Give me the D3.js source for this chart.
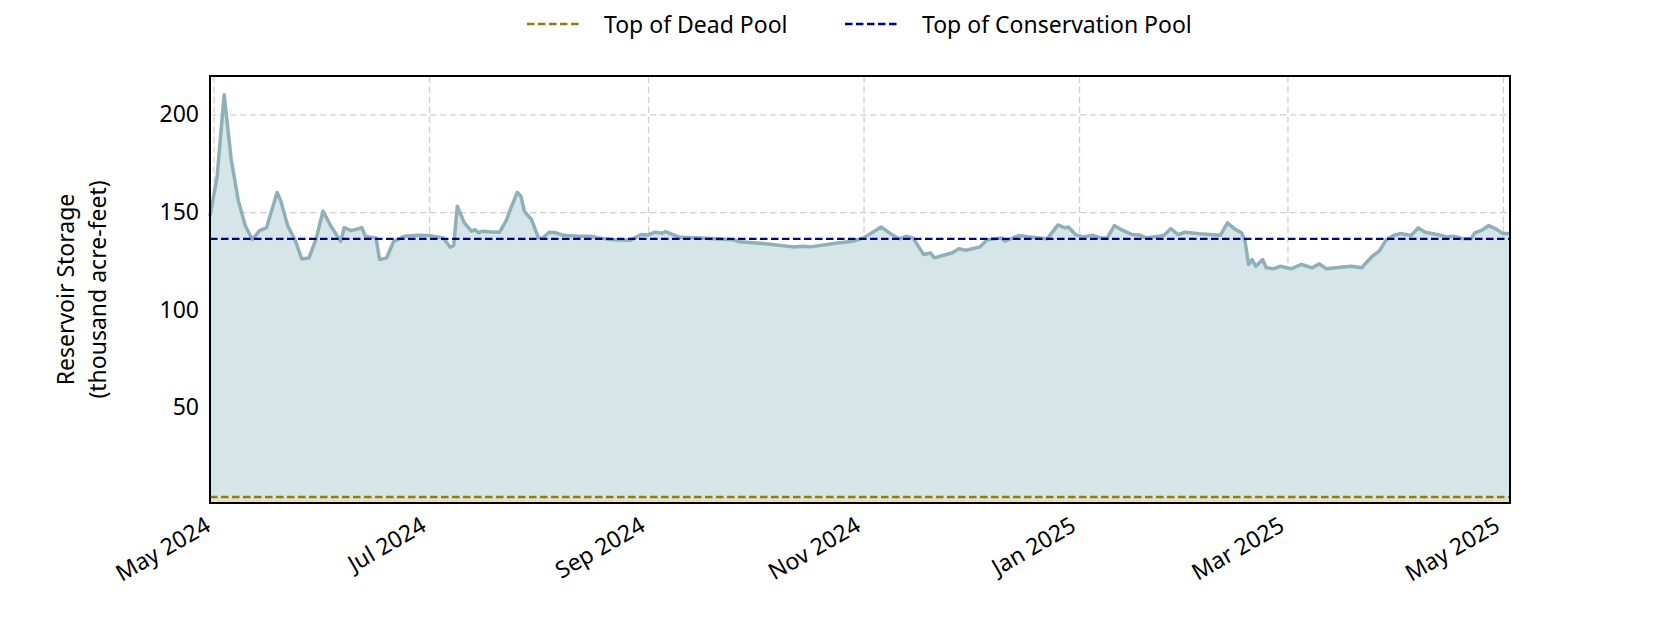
<!DOCTYPE html>
<html>
<head>
<meta charset="utf-8">
<script src="https://cdn.jsdelivr.net/npm/d3@7"></script>
<style>
  body { margin: 0; background: #fff; }
  text { font-family: "Noto Sans", sans-serif; fill: #000; }
</style>
</head>
<body>
<svg id="chart"></svg>
<script>

// daily reservoir storage (thousand acre-feet)
const dates = [
    "2024-04-30", "2024-05-02", "2024-05-04", "2024-05-06", "2024-05-08", "2024-05-10", "2024-05-12",
    "2024-05-14", "2024-05-16", "2024-05-19", "2024-05-20", "2024-05-22", "2024-05-24", "2024-05-26",
    "2024-05-28", "2024-05-30", "2024-06-01", "2024-06-03", "2024-06-06", "2024-06-07", "2024-06-09",
    "2024-06-12", "2024-06-13", "2024-06-16", "2024-06-17", "2024-06-19", "2024-06-21", "2024-06-24",
    "2024-06-28", "2024-07-01", "2024-07-05", "2024-07-07", "2024-07-08", "2024-07-09", "2024-07-11",
    "2024-07-13", "2024-07-14", "2024-07-15", "2024-07-16", "2024-07-18", "2024-07-21", "2024-07-23",
    "2024-07-24", "2024-07-26", "2024-07-27", "2024-07-28", "2024-07-30", "2024-08-01", "2024-08-02",
    "2024-08-04", "2024-08-06", "2024-08-08", "2024-08-12", "2024-08-16", "2024-08-18", "2024-08-22",
    "2024-08-27", "2024-08-30", "2024-09-01", "2024-09-03", "2024-09-05", "2024-09-06", "2024-09-08",
    "2024-09-10", "2024-09-16", "2024-09-25", "2024-09-27", "2024-10-05", "2024-10-12", "2024-10-15",
    "2024-10-17", "2024-10-24", "2024-10-29", "2024-11-01", "2024-11-06", "2024-11-09", "2024-11-11",
    "2024-11-13", "2024-11-15", "2024-11-18", "2024-11-20", "2024-11-21", "2024-11-26", "2024-11-28",
    "2024-11-30", "2024-12-04", "2024-12-06", "2024-12-10", "2024-12-11", "2024-12-15", "2024-12-18",
    "2024-12-23", "2024-12-25", "2024-12-26", "2024-12-28", "2024-12-29", "2024-12-31", "2025-01-02",
    "2025-01-05", "2025-01-07", "2025-01-09", "2025-01-11", "2025-01-13", "2025-01-16", "2025-01-18",
    "2025-01-20", "2025-01-25", "2025-01-27", "2025-01-29", "2025-01-31", "2025-02-04", "2025-02-10",
    "2025-02-12", "2025-02-14", "2025-02-16", "2025-02-17", "2025-02-18", "2025-02-19", "2025-02-20",
    "2025-02-22", "2025-02-23", "2025-02-25", "2025-02-27", "2025-03-02", "2025-03-05", "2025-03-08",
    "2025-03-10", "2025-03-12", "2025-03-19", "2025-03-22", "2025-03-25", "2025-03-27", "2025-03-29",
    "2025-03-31", "2025-04-02", "2025-04-05", "2025-04-07", "2025-04-09", "2025-04-12", "2025-04-15",
    "2025-04-17", "2025-04-20", "2025-04-22", "2025-04-23", "2025-04-25", "2025-04-27", "2025-04-29",
    "2025-05-01", "2025-05-03"
]
const storage = [
    148.0, 168.0, 210.0, 177.0, 156.0, 143.0, 136.0,
    140.5, 142.0, 160.0, 156.0, 143.0, 136.0, 126.0,
    126.5, 136.0, 150.5, 143.5, 135.0, 142.0, 140.5,
    142.0, 137.5, 136.8, 125.7, 126.6, 135.0, 137.6,
    138.1, 138.0, 136.8, 132.0, 133.0, 153.0, 144.5,
    140.2, 141.0, 139.4, 140.2, 139.9, 139.7, 146.2,
    151.3, 160.1, 158.1, 150.4, 146.2, 136.8, 136.5,
    139.7, 139.4, 138.1, 137.6, 137.6, 136.8, 135.9,
    135.6, 138.5, 138.3, 139.7, 139.2, 140.0, 138.5,
    137.1, 136.8, 135.9, 134.8, 133.7, 132.2, 132.5,
    132.2, 134.1, 135.1, 136.8, 142.4, 138.5, 136.3,
    137.6, 136.8, 128.3, 129.1, 126.6, 129.1, 131.2,
    130.5, 132.2, 135.9, 136.8, 135.1, 138.0, 137.3,
    136.3, 141.0, 143.4, 141.9, 142.4, 138.5, 137.3,
    138.1, 136.8, 136.8, 143.1, 141.0, 138.5, 138.3,
    136.8, 138.0, 141.6, 138.5, 139.7, 138.9, 138.1,
    144.5, 141.4, 139.4, 135.1, 123.2, 125.7, 122.3,
    125.7, 121.5, 121.0, 122.3, 121.0, 123.2, 121.5,
    123.5, 121.0, 122.3, 121.5, 127.4, 130.0, 135.9,
    138.0, 139.0, 138.0, 141.9, 139.7, 138.7, 137.3,
    137.6, 136.3, 136.3, 139.4, 140.7, 143.1, 141.4,
    139.0, 139.0
]

const deadPool = 4.3
const conservationPool = 136.3
const yTicks = [50, 100, 150, 200]
const yDomain = [1.2, 219.6]
const legendLabels = ["Top of Dead Pool", "Top of Conservation Pool"]
const yTitleLines = ["Reservoir Storage", "(thousand acre-feet)"]

const parseDate = d3.utcParse("%Y-%m-%d")
const formatDate = d3.utcFormat("%b %Y")

const data = dates.map((d, i) => ({ time: parseDate(d), value: storage[i] }))

const margin = { top: 76, right: 170, bottom: 127, left: 210 }
const fullWidth = 1680, fullHeight = 630
const width = fullWidth - margin.left - margin.right
const height = fullHeight - margin.top - margin.bottom

const lineColor = "#8fb0b6"
const fillColor = "#d6e5e8"
const deadColor = "#8c7f0c"
const consColor = "#00008b"
const gridColor = "#d0d0d0"
const fontSize = "23px"

const svg = d3.select("#chart")
    .attr("width", fullWidth)
    .attr("height", fullHeight)

const g = svg.append("g")
    .attr("transform", "translate(" + margin.left + "," + margin.top + ")")

const x = d3.scaleUtc()
    .domain(d3.extent(data, d => d.time))
    .range([0, width])

const y = d3.scaleLinear()
    .domain(yDomain)
    .range([height, 0])

// grid
const xGrid = g.append("g")
    .attr("transform", "translate(0," + height + ")")
    .call(d3.axisBottom(x).ticks(d3.utcMonth.every(2)).tickSize(-height).tickFormat(""))
xGrid.select(".domain").remove()
xGrid.selectAll("line")
    .attr("stroke", gridColor)
    .attr("stroke-width", 1.3)
    .attr("stroke-dasharray", "6.5,3.5")

const yGrid = g.append("g")
    .call(d3.axisLeft(y).tickValues(yTicks).tickSize(-width).tickFormat(""))
yGrid.select(".domain").remove()
yGrid.selectAll("line")
    .attr("stroke", gridColor)
    .attr("stroke-width", 1.3)
    .attr("stroke-dasharray", "6.5,3.5")

// storage area + line
g.append("path")
    .datum(data)
    .attr("fill", fillColor)
    .attr("d", d3.area()
        .x(d => x(d.time))
        .y0(y(yDomain[0]))
        .y1(d => y(d.value)))

// band below dead pool
g.append("rect")
    .attr("x", 0)
    .attr("width", width)
    .attr("y", y(deadPool))
    .attr("height", y(yDomain[0]) - y(deadPool))
    .attr("fill", "#e6dfc9")

g.append("path")
    .datum(data)
    .attr("fill", "none")
    .attr("stroke", lineColor)
    .attr("stroke-width", 3.5)
    .attr("stroke-linejoin", "round")
    .attr("d", d3.line()
        .x(d => x(d.time))
        .y(d => y(d.value)))

// pool levels
g.append("line")
    .attr("x1", 0).attr("x2", width)
    .attr("y1", y(deadPool)).attr("y2", y(deadPool))
    .attr("stroke", deadColor)
    .attr("stroke-width", 2.5)
    .attr("stroke-dasharray", "7.5,3.5")

g.append("line")
    .attr("x1", 0).attr("x2", width)
    .attr("y1", y(conservationPool)).attr("y2", y(conservationPool))
    .attr("stroke", consColor)
    .attr("stroke-width", 2.4)
    .attr("stroke-dasharray", "7.5,3.5")

// frame
g.append("rect")
    .attr("width", width)
    .attr("height", height)
    .attr("fill", "none")
    .attr("stroke", "#000")
    .attr("stroke-width", 2)

// y axis labels
const yAxis = g.append("g")
    .call(d3.axisLeft(y).tickValues(yTicks).tickSize(0).tickPadding(11))
yAxis.select(".domain").remove()
yAxis.selectAll("text")
    .style("font-size", fontSize)
    .style("font-family", "'Noto Sans', sans-serif")
    .attr("fill", "#000")

// x axis labels, rotated
const xAxis = g.append("g")
    .attr("transform", "translate(0," + height + ")")
    .call(d3.axisBottom(x).ticks(d3.utcMonth.every(2)).tickSize(0).tickFormat(formatDate))
xAxis.select(".domain").remove()
xAxis.selectAll("text")
    .style("font-size", fontSize)
    .style("font-family", "'Noto Sans', sans-serif")
    .attr("fill", "#000")
    .attr("text-anchor", "end")
    .attr("dy", null)
    .attr("y", 0)
    .attr("transform", "translate(-2,27) rotate(-30)")

// y axis title, two lines
const yTitle = svg.append("g")
    .attr("transform", "translate(0," + (margin.top + height / 2) + ") rotate(-90)")
yTitleLines.forEach((t, i) => {
    yTitle.append("text")
        .attr("x", 0)
        .attr("y", 65 + i * 32)
        .attr("text-anchor", "middle")
        .attr("dominant-baseline", "central")
        .style("font-size", fontSize)
        .text(t)
})

// legend
const legendItems = [
    { label: legendLabels[0], color: deadColor, x0: 527 },
    { label: legendLabels[1], color: consColor, x0: 845 }
]
legendItems.forEach(item => {
    svg.append("line")
        .attr("x1", item.x0).attr("x2", item.x0 + 54)
        .attr("y1", 24).attr("y2", 24)
        .attr("stroke", item.color)
        .attr("stroke-width", 2.4)
        .attr("stroke-dasharray", "7.5,3.5")
    svg.append("text")
        .attr("x", item.x0 + 77)
        .attr("y", 24)
        .attr("dominant-baseline", "central")
        .style("font-size", fontSize)
        .text(item.label)
})

</script>
</body>
</html>
